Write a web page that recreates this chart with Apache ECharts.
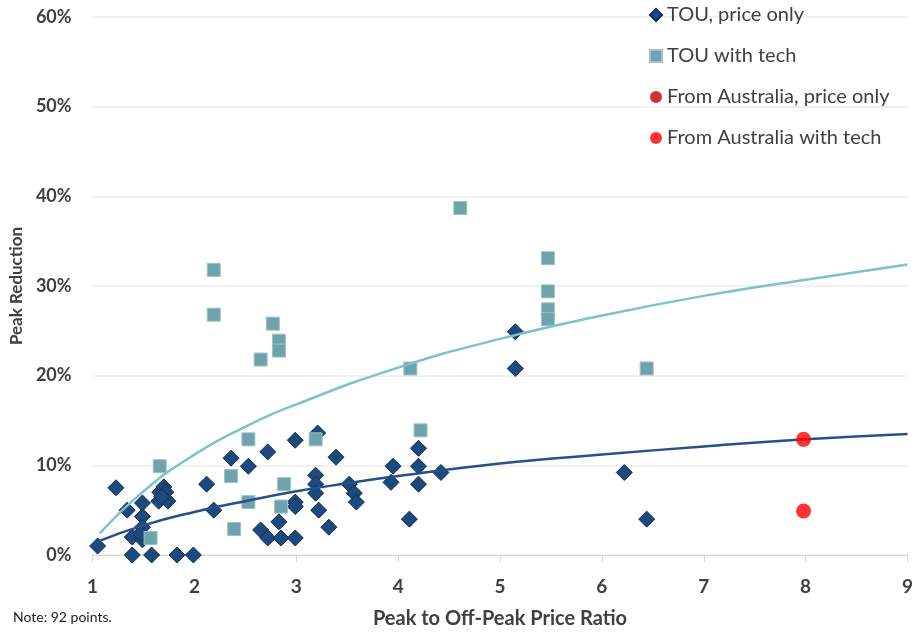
<!DOCTYPE html>
<html>
<head>
<meta charset="utf-8">
<script src="https://cdn.jsdelivr.net/npm/echarts@6/dist/echarts.min.js"></script>
<style>html,body{margin:0;padding:0;background:#fff;}#c{width:916px;height:634px;}</style>
</head>
<body>
<div id="c"></div>
<script>
// x ticks
const xTicks = [1, 2, 3, 4, 5, 6, 7, 8, 9];
// TOU, price only  [ratio, peak reduction %]
const touPriceOnly = [
  [1.05,1.0],[1.23,7.5],[1.34,5.0],[1.39,2.0],[1.39,0],[1.49,5.8],[1.49,4.3],[1.49,3.1],
  [1.49,1.7],[1.47,2.4],[1.58,0],[1.65,6.0],[1.66,7.0],[1.70,7.6],[1.72,7.0],[1.74,6.0],
  [1.68,6.5],[1.83,0],[1.99,0],[2.12,7.9],[2.19,5.0],[2.36,10.8],[2.53,9.9],[2.72,11.5],
  [2.65,2.8],[2.72,1.9],[2.83,3.7],[2.85,1.9],[2.99,1.9],[2.99,12.8],[3.21,13.6],[3.39,10.9],
  [3.19,8.9],[3.19,7.9],[3.19,6.9],[2.99,5.9],[2.99,5.4],[3.22,5.0],[3.32,3.1],[3.52,7.9],
  [3.57,6.9],[3.59,5.9],[3.95,9.9],[3.93,8.1],[4.20,11.9],[4.20,9.9],[4.20,7.9],[4.42,9.2],
  [4.11,4.0],[5.15,24.9],[5.15,20.8],[6.22,9.2],[6.44,4.0]
];
// TOU with tech
const touWithTech = [
  [1.66,9.9],[1.57,1.9],[2.19,31.8],[2.19,26.8],[2.36,8.8],[2.39,2.9],[2.53,12.9],[2.53,5.9],
  [2.65,21.8],[2.77,25.8],[2.83,23.9],[2.83,22.8],[2.88,7.9],[2.85,5.4],[3.19,12.9],[4.12,20.8],
  [4.22,13.9],[4.61,38.7],[5.47,33.1],[5.47,29.4],[5.47,27.4],[5.47,26.3],[6.44,20.8]
];
// From Australia, price only (no visible points)
const ausPriceOnly = [];
// From Australia with tech
const ausWithTech = [[7.98,12.9],[7.98,4.9]];
// Trend lines
const trendPriceOnly = [[1.05,1.5],[1.5,3.3],[2,4.8],[2.5,6.0],[3,7.1],[3.5,8.0],[4,8.8],[5,10.2],[6,11.2],[7,12.1],[8,12.9],[9,13.5]];
const trendWithTech = [[1.07,2.4],[1.5,7.1],[2,11.2],[2.5,14.3],[3,16.8],[4,20.9],[5,24.1],[6,26.7],[7,28.9],[8,30.7],[9,32.4]];

const FONT = 'Lato';
const chart = echarts.init(document.getElementById('c'), null, {renderer: 'canvas'});
chart.setOption({
  animation: false,
  backgroundColor: '#ffffff',
  textStyle: {fontFamily: FONT},
  grid: {left: 92, right: 7, top: 17, bottom: 74, containLabel: false},
  legend: {
    orient: 'vertical', left: 644, top: 0, itemGap: 21,
    data: [
      {name: 'TOU, price only', icon: 'diamond'},
      {name: 'TOU with tech', icon: 'rect'},
      {name: 'From Australia, price only', icon: 'circle'},
      {name: 'From Australia with tech', icon: 'circle'}
    ],
    itemWidth: 12, itemHeight: 12,
    textStyle: {fontFamily: FONT, fontSize: 20, color: '#404040'}
  },
  xAxis: {
    type: 'value', min: xTicks[0], max: xTicks[xTicks.length-1], interval: 1,
    name: 'Peak to Off-Peak Price Ratio', nameLocation: 'middle', nameGap: 54,
    nameTextStyle: {fontFamily: FONT, fontWeight: 'bold', fontSize: 20, color: '#404040'},
    axisLine: {show: true, lineStyle: {color: '#d9d9d9', width: 1}},
    axisTick: {show: true, length: 7, lineStyle: {color: '#d9d9d9'}},
    axisLabel: {fontFamily: FONT, fontWeight: 'bold', fontSize: 19, color: '#404040', margin: 22},
    splitLine: {show: false}
  },
  yAxis: {
    type: 'value', min: 0, max: 60, interval: 10,
    name: 'Peak Reduction', nameLocation: 'middle', nameGap: 66,
    nameTextStyle: {fontFamily: FONT, fontWeight: 'bold', fontSize: 17, color: '#404040'},
    axisLine: {show: false}, axisTick: {show: false},
    axisLabel: {formatter: '{value}%', fontFamily: FONT, fontWeight: 'bold', fontSize: 18, color: '#404040', margin: 21},
    splitLine: {show: true, lineStyle: {color: '#ebebeb', width: 1.5}}
  },
  graphic: [{
    type: 'text', left: 13, top: 610,
    style: {text: 'Note: 92 points.', font: '14px ' + FONT, fill: '#222'}
  }],
  series: [
    {
      name: 'TOU, price only', type: 'scatter', data: touPriceOnly, symbol: 'diamond', symbolSize: [16, 16], z: 2,
      itemStyle: {color: '#1c4a7e', borderColor: '#0e2e55', borderWidth: 1, opacity: 1}
    },
    {
      name: 'TOU with tech', type: 'scatter', data: touWithTech, symbol: 'rect', symbolSize: [13, 13], z: 3,
      itemStyle: {color: '#6fa3ab', borderColor: '#9cc3c8', borderWidth: 1, opacity: 1}
    },
    {
      name: 'trend with tech', type: 'line', data: trendWithTech, smooth: 0.5, showSymbol: false, symbol: 'none', z: 4,
      lineStyle: {color: '#7cc2cb', width: 2.5}
    },
    {
      name: 'trend price only', type: 'line', data: trendPriceOnly, smooth: 0.5, showSymbol: false, symbol: 'none', z: 4,
      lineStyle: {color: '#264f8c', width: 2.5}
    },
    {
      name: 'From Australia, price only', type: 'scatter', data: ausPriceOnly, symbol: 'circle', symbolSize: 15, z: 5,
      itemStyle: {color: '#c00000'}
    },
    {
      name: 'From Australia with tech', type: 'scatter', data: ausWithTech, symbol: 'circle', symbolSize: 15, z: 5,
      itemStyle: {color: '#ff0000'}
    }
  ]
});
</script>
</body>
</html>
